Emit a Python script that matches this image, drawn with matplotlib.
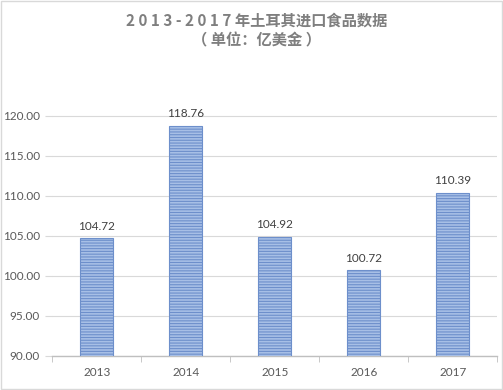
import matplotlib
matplotlib.use('Agg')
from matplotlib import pyplot as plt
from matplotlib.patches import Rectangle

years = ['2013', '2014', '2015', '2016', '2017']
values = [104.72, 118.76, 104.92, 100.72, 110.39]
yticks = [90, 95, 100, 105, 110, 115, 120]

plt.rcParams['font.family'] = ['Noto Sans CJK SC', 'DejaVu Sans']
plt.rcParams['hatch.color'] = '#6d8fcb'
plt.rcParams['hatch.linewidth'] = 0.8

fig = plt.figure(figsize=(5.03, 3.90), dpi=100)
ax = fig.add_axes([0.104, 0.0872, 0.885, 0.718])

x = list(range(len(years)))
bars = ax.bar(x, values, width=0.37, bottom=0, color='#a7bfe6',
              edgecolor='#6d8fcb', linewidth=0.8, hatch='------', zorder=3)

# 数値ラベル
for xi, v in zip(x, values):
    ax.text(xi, v + 0.8, f'{v:.2f}', ha='center', va='bottom',
            fontsize=8.5, color='#404040', family='Lato')

ax.set_ylim(90, 125)
ax.set_xlim(-0.5, len(years) - 0.5)
ax.set_yticks(yticks)
ax.set_yticklabels([f'{t:.2f}' for t in yticks], family='Lato', fontsize=8.5, color='#595959')
ax.set_xticks(x)
ax.set_xticklabels(years, family='Lato', fontsize=8.5, color='#595959')
ax.set_xticks([i - 0.5 for i in range(len(years) + 1)], minor=True)
ax.tick_params(axis='x', which='major', length=0, pad=8)
ax.tick_params(axis='x', which='minor', length=4, color='#bfbfbf', direction='out')
ax.tick_params(axis='y', length=5, color='#d9d9d9', pad=4)

ax.grid(axis='y', color='#d9d9d9', linewidth=0.8, zorder=0)
for s in ['top', 'right', 'left']:
    ax.spines[s].set_visible(False)
ax.spines['bottom'].set_color('#bfbfbf')
ax.spines['bottom'].set_linewidth(1.0)

fig.text(0.51, 0.948, '2 0 1 3 - 2 0 1 7 年土耳其进口食品数据', ha='center', va='center',
         fontsize=11, fontweight='bold', color='#7f7f7f')
fig.text(0.51, 0.895, '（ 单位：亿美金 ）', ha='center', va='center',
         fontsize=11, fontweight='bold', color='#7f7f7f')

fig.patches.append(Rectangle((0.002, 0.002), 0.996, 0.996, transform=fig.transFigure,
                             fill=False, edgecolor='#d9d9d9', linewidth=1))

plt.savefig('out.png', dpi=100)
